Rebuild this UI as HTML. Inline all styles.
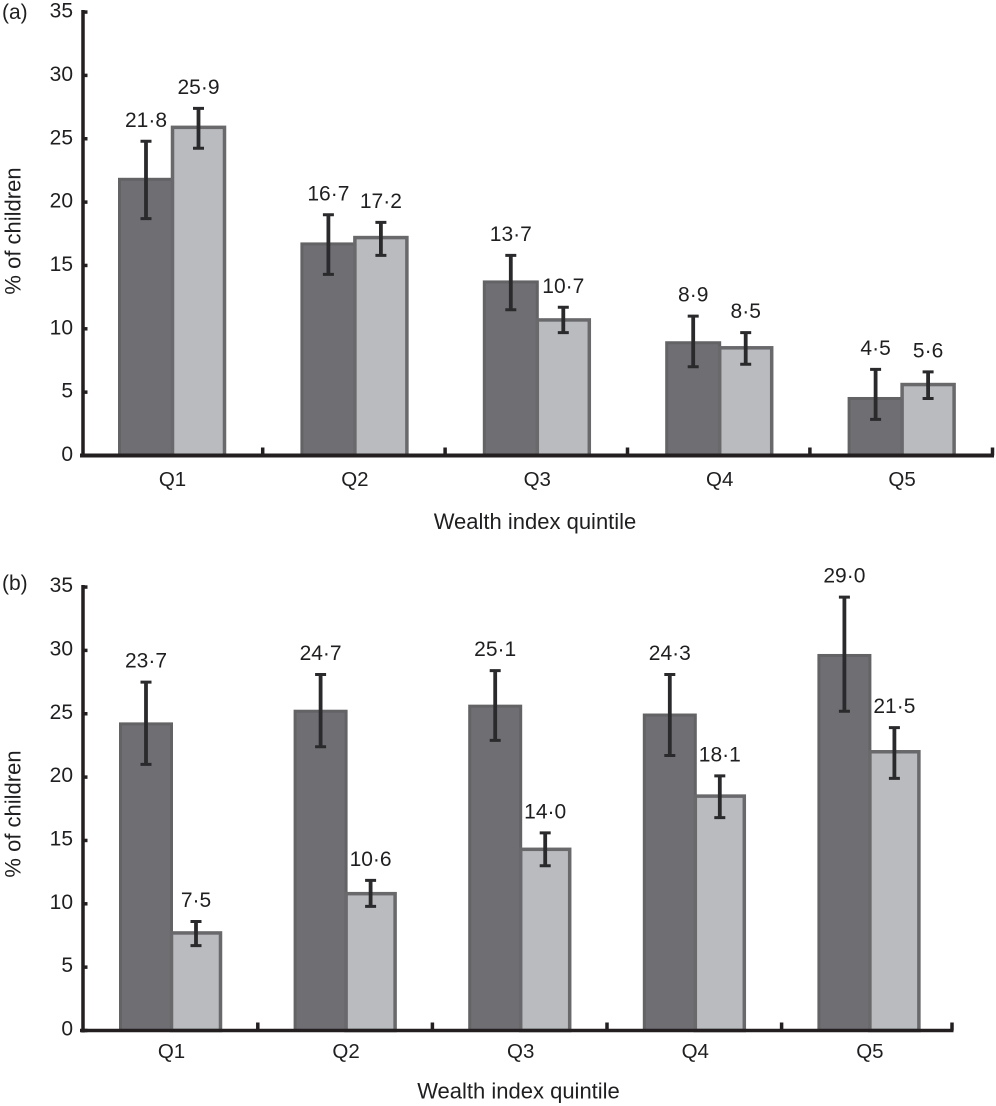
<!DOCTYPE html>
<html lang="en">
<head>
<meta charset="utf-8">
<title>% of children by wealth index quintile</title>
<style>
html,body{margin:0;padding:0;background:#fff;}
#chart{display:block;width:996px;height:1106px;}
text{font-family:"Liberation Sans",sans-serif;fill:#1f1f21;}
</style>
</head>
<body>
<svg id="chart" xmlns="http://www.w3.org/2000/svg" width="996" height="1106" viewBox="0 0 996 1106"></svg>
<script>
const categories = ['Q1', 'Q2', 'Q3', 'Q4', 'Q5'];
const yTicks = [0, 5, 10, 15, 20, 25, 30, 35];
const xTitle = 'Wealth index quintile';
const yTitle = '% of children';

const panelADark = [21.8, 16.7, 13.7, 8.9, 4.5];
const panelALight = [25.9, 17.2, 10.7, 8.5, 5.6];
const panelADarkLabels = ['21·8', '16·7', '13·7', '8·9', '4·5'];
const panelALightLabels = ['25·9', '17·2', '10·7', '8·5', '5·6'];
const panelADarkHigh = [24.8, 19.0, 15.8, 11.0, 6.8];
const panelADarkLow = [18.7, 14.3, 11.5, 7.0, 2.85];
const panelALightHigh = [27.4, 18.4, 11.7, 9.7, 6.6];
const panelALightLow = [24.25, 15.8, 9.7, 7.2, 4.5];

const panelBDark = [24.2, 25.2, 25.6, 24.9, 29.6];
const panelBLight = [7.7, 10.8, 14.3, 18.5, 22.0];
const panelBDarkLabels = ['23·7', '24·7', '25·1', '24·3', '29·0'];
const panelBLightLabels = ['7·5', '10·6', '14·0', '18·1', '21·5'];
const panelBDarkHigh = [27.5, 28.1, 28.4, 28.1, 34.2];
const panelBDarkLow = [21.0, 22.4, 22.9, 21.7, 25.2];
const panelBLightHigh = [8.6, 11.85, 15.6, 20.1, 23.9];
const panelBLightLow = [6.7, 9.8, 13.0, 16.8, 19.9];

const svg = document.getElementById('chart');
const NS = 'http://www.w3.org/2000/svg';

function make(parent, tag, attrs, content) {
  const node = document.createElementNS(NS, tag);
  for (const k in attrs) node.setAttribute(k, attrs[k]);
  if (content !== undefined) node.textContent = content;
  parent.appendChild(node);
  return node;
}

function drawPanel(p) {
  const yScale = v => p.y0 - v * 12.67;
  const xCenter = i => p.c0 + p.band * i;
  const group = make(svg, 'g', {});
  
  

  const tag = make(group, 'text', {x: 2, y: p.tagY, 'font-size': 21}, '(' + p.id + ')');
  
  

  categories.forEach((cat, i) => {
    const c = xCenter(i);
    const dark = make(group, 'rect', {x: c - p.barW, y: yScale(p.dark[i]), width: p.barW, height: p.y0 - yScale(p.dark[i]), fill: '#6f6f73', stroke: '#636366', 'stroke-width': 3});
    
    
    const light = make(group, 'rect', {x: c, y: yScale(p.light[i]), width: p.lightW, height: p.y0 - yScale(p.light[i]), fill: '#b9bbbe', stroke: '#69696c', 'stroke-width': 3.5});
    
    
  });

  categories.forEach((cat, i) => {
    const c = xCenter(i);
    const series = [
      {name: 'dark', cx: c - p.barW / 2, hi: p.darkHigh[i], lo: p.darkLow[i], label: p.darkLabels[i]},
      {name: 'light', cx: c + p.lightW / 2, hi: p.lightHigh[i], lo: p.lightLow[i], label: p.lightLabels[i]}
    ];
    series.forEach(s => {
      const yh = yScale(s.hi);
      const yl = yScale(s.lo);
      const stem = make(group, 'path', {d: 'M' + s.cx + ' ' + yh + 'V' + yl, fill: 'none', stroke: '#2a2a2c', 'stroke-width': 3.8});
      
      
      const capsD = 'M' + (s.cx - 5.5) + ' ' + yh + 'H' + (s.cx + 5.5) +
        'M' + (s.cx - 5.5) + ' ' + yl + 'H' + (s.cx + 5.5);
      const caps = make(group, 'path', {d: capsD, fill: 'none', stroke: '#2a2a2c', 'stroke-width': 3});
      
      
      const lab = make(group, 'text', {x: s.cx, y: yh - 14.5, 'font-size': 21, 'text-anchor': 'middle'}, s.label);
      
      
    });
    const xl = make(group, 'text', {x: c, y: p.y0 + p.catDy, 'font-size': 20.5, 'text-anchor': 'middle'}, cat);
    
    
  });

  const yAxis = make(group, 'line', {x1: 83, x2: 83, y1: yScale(35) - 2, y2: p.y0 + 2, stroke: '#231f20', 'stroke-width': 3.5});
  
  
  const xAxis = make(group, 'line', {x1: 80, x2: p.xEnd + 1.5, y1: p.y0, y2: p.y0, stroke: '#231f20', 'stroke-width': p.xStroke});
  
  

  yTicks.forEach(v => {
    const y = yScale(v);
    const t = make(group, 'line', {x1: 83, x2: 87.5, y1: y, y2: y, stroke: '#231f20', 'stroke-width': 3.5});
    
    
    const l = make(group, 'text', {x: 73, y: y + p.yLabelDy, 'font-size': 21, 'text-anchor': 'end'}, String(v));
    
    
  });

  categories.forEach((cat, i) => {
    const x = i === categories.length - 1 ? p.xEnd : xCenter(i) + p.band / 2 - 1;
    const t = make(group, 'line', {x1: x, x2: x, y1: p.y0, y2: p.y0 - 8, stroke: '#231f20', 'stroke-width': 3.5});
    
    
  });

  const xt = make(group, 'text', {x: p.xTitleX, y: p.xTitleY, 'font-size': 22, 'text-anchor': 'middle'}, xTitle);
  
  
  const yt = make(group, 'text', {x: 0, y: 0, 'font-size': 22, 'text-anchor': 'middle', transform: 'translate(20.5 ' + p.yTitleY + ') rotate(-90)'}, yTitle);
  
  
}

drawPanel({
  id: 'a', y0: 455.5, c0: 172.5, band: 182.4, barW: 53, lightW: 52, xEnd: 992.5, xStroke: 4,
  tagY: 19, catDy: 30.5, yLabelDy: 5.5, xTitleX: 535, xTitleY: 529, yTitleY: 231,
  dark: panelADark, light: panelALight, darkLabels: panelADarkLabels, lightLabels: panelALightLabels,
  darkHigh: panelADarkHigh, darkLow: panelADarkLow, lightHigh: panelALightHigh, lightLow: panelALightLow
});
drawPanel({
  id: 'b', y0: 1030.5, c0: 171.5, band: 174.6, barW: 51, lightW: 49, xEnd: 952, xStroke: 3.5,
  tagY: 590, catDy: 27.5, yLabelDy: 5, xTitleX: 518.5, xTitleY: 1098.5, yTitleY: 814,
  dark: panelBDark, light: panelBLight, darkLabels: panelBDarkLabels, lightLabels: panelBLightLabels,
  darkHigh: panelBDarkHigh, darkLow: panelBDarkLow, lightHigh: panelBLightHigh, lightLow: panelBLightLow
});
</script>
</body>
</html>
